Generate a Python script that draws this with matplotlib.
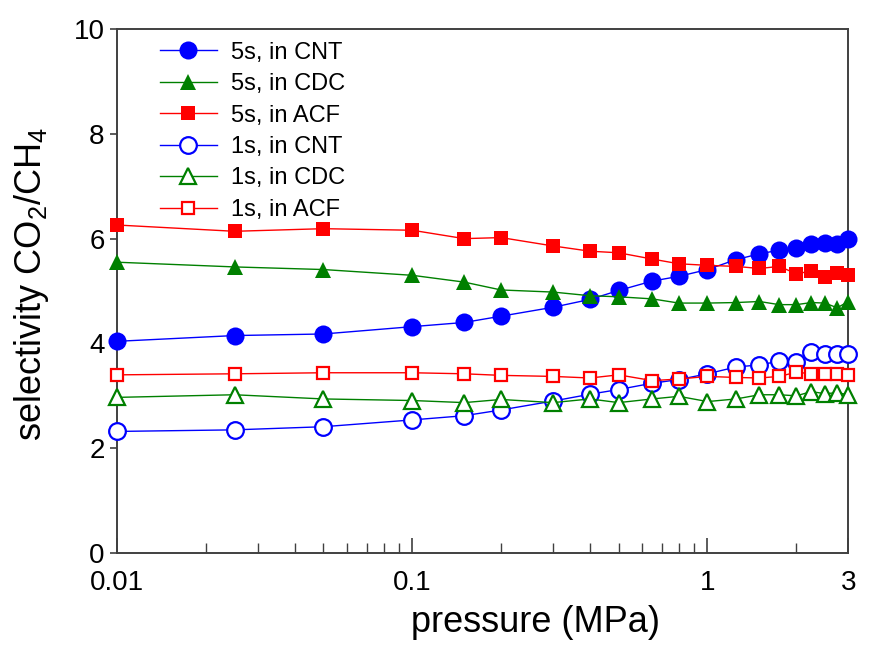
import matplotlib
matplotlib.use("Agg")
import matplotlib.pyplot as plt
from matplotlib.ticker import FixedLocator, NullFormatter, LogLocator

plt.rcParams['font.family'] = ['Liberation Sans', 'DejaVu Sans']
plt.rcParams['mathtext.fontset'] = 'custom'
plt.rcParams['mathtext.rm'] = 'Liberation Sans'
plt.rcParams['mathtext.it'] = 'Liberation Sans:italic'

# pressure (MPa)
pressure = [0.01, 0.025, 0.05, 0.1, 0.15, 0.2, 0.3, 0.4, 0.5, 0.65,
            0.8, 1.0, 1.25, 1.5, 1.75, 2.0, 2.25, 2.5, 2.75, 3.0]

# CO2/CH4 selectivity, 5 s runs
sel_5s_cnt = [4.04, 4.15, 4.18, 4.32, 4.40, 4.52, 4.69, 4.84, 5.01, 5.19,
              5.28, 5.41, 5.60, 5.71, 5.78, 5.83, 5.90, 5.92, 5.90, 6.00]
sel_5s_cdc = [5.55, 5.46, 5.41, 5.30, 5.17, 5.02, 4.98, 4.91, 4.89, 4.85,
              4.77, 4.77, 4.78, 4.80, 4.74, 4.74, 4.78, 4.77, 4.68, 4.80]
sel_5s_acf = [6.26, 6.14, 6.19, 6.16, 6.00, 6.02, 5.86, 5.76, 5.73, 5.61,
              5.52, 5.49, 5.47, 5.43, 5.47, 5.33, 5.38, 5.27, 5.35, 5.30]

# CO2/CH4 selectivity, 1 s runs
sel_1s_cnt = [2.32, 2.35, 2.41, 2.54, 2.62, 2.73, 2.90, 3.03, 3.12, 3.24,
              3.31, 3.42, 3.55, 3.59, 3.66, 3.64, 3.83, 3.79, 3.80, 3.80]
sel_1s_cdc = [2.97, 3.02, 2.94, 2.91, 2.87, 2.93, 2.87, 2.94, 2.87, 2.94,
              2.99, 2.89, 2.94, 3.02, 3.02, 3.00, 3.08, 3.04, 3.06, 3.02]
sel_1s_acf = [3.40, 3.42, 3.44, 3.44, 3.42, 3.39, 3.37, 3.34, 3.40, 3.29,
              3.32, 3.37, 3.35, 3.34, 3.37, 3.45, 3.42, 3.42, 3.42, 3.40]

labels = ["5s, in CNT", "5s, in CDC", "5s, in ACF",
          "1s, in CNT", "1s, in CDC", "1s, in ACF"]

x_ticks = [0.01, 0.1, 1, 3]
x_ticklabels = ["0.01", "0.1", "1", "3"]
y_ticks = [0, 2, 4, 6, 8, 10]

BLUE, GREEN, RED = "#0000ff", "#008000", "#ff0000"

fig = plt.figure(figsize=(8.8, 6.46), dpi=100)
ax = fig.add_axes([0.133, 0.144, 0.831, 0.811])

series = [
    (sel_5s_cnt, BLUE, "o", 13, True),
    (sel_5s_cdc, GREEN, "^", 12, True),
    (sel_5s_acf, RED, "s", 10, True),
    (sel_1s_cnt, BLUE, "o", 12, False),
    (sel_1s_cdc, GREEN, "^", 12, False),
    (sel_1s_acf, RED, "s", 8.5, False),
]

for (vals, col, mk, ms, filled), lab in zip(series, labels):
    ax.plot(pressure, vals, color=col, lw=1.0, marker=mk, markersize=ms,
            markerfacecolor=col if filled else "white",
            markeredgecolor=col, markeredgewidth=0 if filled else 1.6,
            label=lab, zorder=3, clip_on=False)

ax.set_xscale("log")
ax.set_xlim(0.01, 3)
ax.set_ylim(0, 10)

ax.xaxis.set_major_locator(FixedLocator(x_ticks))
ax.set_xticklabels(x_ticklabels)
ax.xaxis.set_minor_locator(LogLocator(base=10, subs=range(2, 10), numticks=20))
ax.xaxis.set_minor_formatter(NullFormatter())
ax.set_yticks(y_ticks)

ax.tick_params(axis="x", which="major", direction="in", length=11, width=1.2,
               color="#404040", labelsize=20, pad=12)
ax.tick_params(axis="x", which="minor", direction="in", length=7, width=1.0,
               color="#404040")
ax.tick_params(axis="y", which="major", direction="out", length=5, width=1.2,
               color="#404040", labelsize=20, pad=4)

for s in ax.spines.values():
    s.set_color("#404040")
    s.set_linewidth(1.4)

ax.set_xlabel("pressure (MPa)", fontsize=26)
ax.xaxis.set_label_coords(0.572, -0.10)
ax.set_ylabel(r"selectivity CO$_2$/CH$_4$", fontsize=26)
ax.yaxis.set_label_coords(-0.09, 0.513)

ax.legend(loc="upper left", bbox_to_anchor=(0.046, 0.994), frameon=False,
          fontsize=17, handlelength=2.4, handletextpad=0.6, labelspacing=0.40,
          borderaxespad=0.0)

fig.savefig("out.png", dpi=100, facecolor="white")
